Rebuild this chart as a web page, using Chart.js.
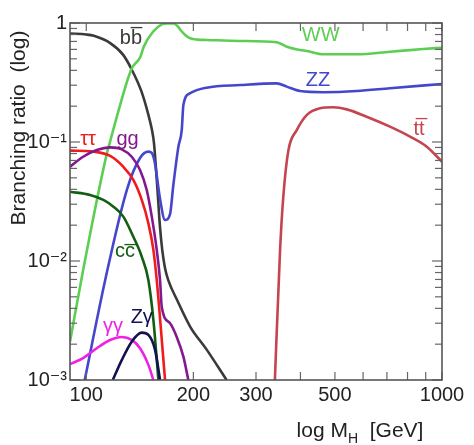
<!DOCTYPE html>
<html><head><meta charset="utf-8">
<script src="https://cdn.jsdelivr.net/npm/chart.js@4/dist/chart.umd.min.js"></script>
<style>html,body{margin:0;padding:0;background:#fff}</style>
</head><body>
<canvas id="c" width="474" height="445"></canvas>
<script>
// ---- data (Higgs mass in GeV, branching ratio) ----
const massBB = [90, 100, 105, 117, 127, 134, 143, 149.5, 153, 155, 158.5, 161, 163.5, 166.5, 170, 180, 196, 218, 248];
const brBB   = [0.815, 0.80, 0.78, 0.675, 0.54, 0.41, 0.265, 0.169, 0.126, 0.098, 0.04, 0.02, 0.0124, 0.0087, 0.0069, 0.0047, 0.0028, 0.0018, 0.001];

const massWW = [90, 98, 114, 117, 123, 134, 142, 145, 154, 163, 168, 176, 180, 184, 190, 196, 205, 218, 270, 343, 366, 399, 417, 464, 576, 714, 886, 1000];
const brWW   = [0.0021, 0.0084, 0.078, 0.104, 0.18, 0.41, 0.52, 0.63, 0.845, 0.975, 0.99, 0.99, 0.95, 0.873, 0.79, 0.744, 0.725, 0.72, 0.706, 0.688, 0.632, 0.593, 0.582, 0.546, 0.546, 0.574, 0.605, 0.62];

const massZZ = [99, 113, 130, 141.6, 149.5, 152.8, 156, 161, 166.5, 172, 175.7, 181.5, 185.5, 187.5, 196, 218, 271, 343, 366, 399, 464, 576, 714, 1000];
const brZZ   = [0.001, 0.0069, 0.0395, 0.0734, 0.083, 0.081, 0.066, 0.034, 0.0221, 0.0248, 0.0435, 0.091, 0.126, 0.205, 0.257, 0.286, 0.301, 0.311, 0.292, 0.268, 0.262, 0.268, 0.283, 0.307];

const massTT = [339, 350.6, 358, 370, 390.6, 417, 454, 495, 540, 614, 714, 813, 906, 1000];
const brTT   = [0.001, 0.0124, 0.0347, 0.085, 0.126, 0.169, 0.192, 0.196, 0.188, 0.163, 0.1345, 0.111, 0.0913, 0.0683];

const massTauTau = [90, 104.7, 116.7, 127, 135.6, 143.2, 149.5, 154.4, 157.8, 161.2, 166.5];
const brTauTau   = [0.0846, 0.083, 0.0763, 0.062, 0.048, 0.0326, 0.0207, 0.0124, 0.0069, 0.0033, 0.001];

const massGG = [90, 98, 107, 116.7, 125.8, 134.2, 141.6, 147.9, 152.8, 157.8, 161.2, 163, 172, 179.6, 187.5, 193.6];
const brGG   = [0.062, 0.0752, 0.0857, 0.0902, 0.0868, 0.0752, 0.0582, 0.0395, 0.0236, 0.0124, 0.0069, 0.0041, 0.003, 0.0023, 0.00157, 0.001];

const massCC = [90, 102.5, 111.7, 119.2, 127.1, 135.6, 143.2, 149.5, 154.4, 159.5];
const brCC   = [0.0382, 0.0359, 0.0326, 0.0286, 0.0236, 0.016, 0.0109, 0.0069, 0.0032, 0.001];

const massGamGam = [90, 98, 107, 116.7, 125.8, 134.2, 141.6, 149.5, 154.4];
const brGamGam   = [0.00136, 0.00153, 0.00185, 0.00217, 0.0023, 0.00217, 0.00185, 0.00134, 0.001];

const massZGam = [118.7, 125.8, 134.2, 143.2, 149.5, 156.1, 161.2];
const brZGam   = [0.001, 0.00147, 0.0021, 0.0025, 0.00239, 0.00179, 0.001];

// axis ticks
const xTickValues = [100, 200, 300, 400, 500, 600, 700, 800, 900, 1000];
const xTickLabels = {100: '100', 200: '200', 300: '300', 500: '500', 1000: '1000'};
const yDecades = [0.001, 0.01, 0.1, 1];
const yDecadeLabels = ['10\u207B\u00B3', '10\u207B\u00B2', '10\u207B\u00B9', '1'];
const yMinorMultipliers = [2, 3, 4, 5, 6, 7, 8, 9];

// curve names placed at (mass, BR)
const labelText  = ['b\u0305b\u0305'.replace(/^b\u0305/, 'b'), 'WW', 'ZZ', 't t\u0305'.replace(' ', ''), '\u03C4\u03C4', 'gg', 'cc\u0305', '\u03B3\u03B3', 'Z\u03B3'];
const labelMass  = [133.5, 456, 448, 862, 101.2, 130.6, 128.5, 118.9, 143.2];
const labelBR    = [0.748, 0.78, 0.332, 0.1286, 0.104, 0.106, 0.012, 0.00284, 0.00335];

const colBB = '#3a3a3a', colWW = '#5ccf52', colZZ = '#4646cc', colTT = '#c4454f',
      colTau = '#f01c1c', colGG = '#84188f', colCC = '#135e13', colGam = '#ee22e6', colZG = '#12124e';
const labelColor = [colBB, colWW, colZZ, colTT, colTau, colGG, colCC, colGam, colZG];

function pts(m, b) { return m.map((v, i) => ({x: v, y: b[i]})); }
function ds(m, b, c) {
  return {data: pts(m, b), borderColor: c, borderWidth: 2.6, pointRadius: 0,
          cubicInterpolationMode: 'monotone', fill: false};
}

const FONT = "'Liberation Sans', Arial, 'DejaVu Sans', sans-serif";

const framePlugin = {
  id: 'frame',
  afterDatasetsDraw(chart) {
    const {ctx, chartArea: a, scales: {x, y}} = chart;
    ctx.save();
    ctx.strokeStyle = '#666';
    ctx.lineWidth = 1.2;
    const line = (x1, y1, x2, y2) => { ctx.beginPath(); ctx.moveTo(x1, y1); ctx.lineTo(x2, y2); ctx.stroke(); };
    yDecades.forEach(d => {
      let py = y.getPixelForValue(d);
      line(a.left, py, a.left + 10, py); line(a.right, py, a.right - 10, py);
      if (d < 1) yMinorMultipliers.forEach(m => {
        py = y.getPixelForValue(d * m);
        line(a.left, py, a.left + 7, py); line(a.right, py, a.right - 7, py);
      });
    });
    xTickValues.forEach(v => {
      const px = x.getPixelForValue(v);
      line(px, a.top, px, a.top + 8); line(px, a.bottom, px, a.bottom - 8);
    });
    ctx.strokeStyle = '#555';
    ctx.lineWidth = 1.6;
    ctx.strokeRect(a.left, a.top, a.right - a.left, a.bottom - a.top);

    // curve labels
    ctx.font = '20px ' + FONT;
    ctx.textAlign = 'center';
    ctx.textBaseline = 'middle';
    labelText.forEach((t, i) => {
      ctx.fillStyle = labelColor[i];
      ctx.fillText(t, x.getPixelForValue(labelMass[i]), y.getPixelForValue(labelBR[i]));
    });
    ctx.restore();
  },
  afterDraw(chart) {
    const {ctx} = chart;
    ctx.save();
    ctx.fillStyle = '#222';
    // y title
    ctx.translate(19, 128);
    ctx.rotate(-Math.PI / 2);
    ctx.font = '21px ' + FONT;
    ctx.textAlign = 'center';
    ctx.textBaseline = 'middle';
    ctx.fillText('Branching ratio  (log)', 0, 0);
    ctx.restore();
    // x title with subscript
    ctx.save();
    ctx.fillStyle = '#222';
    ctx.textBaseline = 'alphabetic';
    ctx.textAlign = 'left';
    const big = '21px ' + FONT, small = '14px ' + FONT;
    const parts = [['log M', big, 0], ['H', small, 6], ['  [GeV]', big, 0]];
    let w = 0;
    parts.forEach(p => { ctx.font = p[1]; w += ctx.measureText(p[0]).width; });
    let cx = 360 - w / 2;
    parts.forEach(p => { ctx.font = p[1]; ctx.fillText(p[0], cx, 437 + p[2]); cx += ctx.measureText(p[0]).width; });
    ctx.restore();
  }
};

new Chart(document.getElementById('c'), {
  type: 'line',
  data: {
    datasets: [
      ds(massTT, brTT, colTT),
      ds(massZGam, brZGam, colZG),
      ds(massGamGam, brGamGam, colGam),
      ds(massCC, brCC, colCC),
      ds(massGG, brGG, colGG),
      ds(massTauTau, brTauTau, colTau),
      ds(massZZ, brZZ, colZZ),
      ds(massWW, brWW, colWW),
      ds(massBB, brBB, colBB)
    ]
  },
  options: {
    responsive: false,
    devicePixelRatio: 1,
    animation: false,
    layout: {padding: {left: 0, top: 23, right: 32, bottom: 0}},
    plugins: {legend: {display: false}, tooltip: {enabled: false}},
    scales: {
      x: {
        type: 'logarithmic', min: 90, max: 1000,
        afterBuildTicks: s => { s.ticks = xTickValues.map(v => ({value: v})); },
        afterFit: s => { s.height = 65; },
        ticks: {
          autoSkip: false, maxRotation: 0, padding: 3, color: '#222',
          font: {family: FONT, size: 20},
          callback: v => xTickLabels[v] || ''
        },
        grid: {display: true, drawOnChartArea: false, drawTicks: false},
        border: {display: false}
      },
      y: {
        type: 'logarithmic', min: 0.001, max: 1,
        afterBuildTicks: s => { s.ticks = yDecades.map(v => ({value: v})); },
        afterFit: s => { s.width = 70; },
        ticks: {
          autoSkip: false, padding: 3, color: '#222',
          font: {family: FONT, size: 20},
          callback: (v, i) => yDecadeLabels[i]
        },
        grid: {display: true, drawOnChartArea: false, drawTicks: false},
        border: {display: false}
      }
    }
  },
  plugins: [framePlugin]
});
</script>
</body></html>
